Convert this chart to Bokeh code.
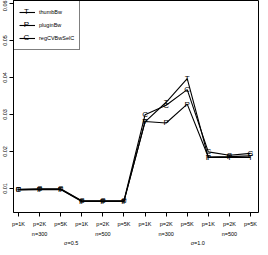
from bokeh.plotting import figure
from bokeh.models import (LinearAxis, FixedTicker, Range1d, Legend, LegendItem,
                          ColumnDataSource, NumeralTickFormatter, Label)
from bokeh.core.properties import value
from bokeh.embed import file_html
from bokeh.resources import INLINE

# ---- data ----
x_pos = list(range(1, 13))
p_labels = ["p=1K", "p=2K", "p=5K"] * 4
n_labels = ["n=300", "n=500", "n=300", "n=500"]
n_pos = [2, 5, 8, 11]
sigma_labels = ["σ=0.5", "σ=1.0"]
sigma_pos = [3.5, 9.5]
y_ticks = [0.01, 0.02, 0.03, 0.04, 0.05, 0.06]

thumbBw = [0.0097, 0.0098, 0.0098, 0.0066, 0.0066, 0.0066,
           0.0280, 0.0333, 0.0397, 0.0184, 0.0184, 0.0184]
pluginBw = [0.0096, 0.0097, 0.0097, 0.0065, 0.0065, 0.0065,
            0.0281, 0.0277, 0.0328, 0.0185, 0.0186, 0.0188]
regCVBwSelC = [0.0098, 0.0099, 0.0099, 0.0067, 0.0067, 0.0067,
               0.0299, 0.0325, 0.0367, 0.0199, 0.0190, 0.0195]

series = [("thumbBw", thumbBw, "T"), ("pluginBw", pluginBw, "P"),
          ("regCVBwSelC", regCVBwSelC, "C")]

FONT = "Liberation Sans"
FS = "5.5px"
FH = 212
FW = 245

p = figure(frame_width=FW, frame_height=FH,
           x_range=Range1d(0.763, 12.38), y_range=Range1d(0.00351, 0.0608),
           output_backend="svg", toolbar_location=None,
           x_axis_location=None, y_axis_location=None,
           min_border_left=12, min_border_right=3, min_border_top=0,
           min_border_bottom=0)
p.grid.visible = False
p.outline_line_color = "black"
p.outline_line_width = 1
p.background_fill_color = "white"
p.border_fill_color = "white"

# y axis
ya = LinearAxis(ticker=FixedTicker(ticks=y_ticks),
                formatter=NumeralTickFormatter(format="0.00"))
ya.major_label_orientation = "vertical"
ya.major_tick_out = 4
ya.major_tick_in = 0
ya.minor_tick_line_color = None
ya.major_label_standoff = 2
ya.major_label_text_font = FONT
ya.major_label_text_font_size = FS
ya.major_label_text_color = "black"
ya.axis_line_color = "black"
p.add_layout(ya, "left")

# x axis: p row with tick marks
xa = LinearAxis(ticker=FixedTicker(ticks=x_pos),
                major_label_overrides={x: l for x, l in zip(x_pos, p_labels)})
xa.major_tick_out = 4
xa.major_tick_in = 0
xa.minor_tick_line_color = None
xa.major_label_standoff = 4
xa.major_label_text_font = FONT
xa.major_label_text_font_size = FS
xa.major_label_text_color = "black"
xa.axis_line_color = None
p.add_layout(xa, "below")

# n row and sigma row (two-line labels, no tick marks)
lab = {x: l for x, l in zip(n_pos, n_labels)}
for x, l in zip(sigma_pos, sigma_labels):
    lab[x] = "\n" + l
xl = LinearAxis(ticker=FixedTicker(ticks=sorted(lab.keys())),
                major_label_overrides=lab)
xl.major_tick_out = 0
xl.major_tick_in = 0
xl.major_tick_line_color = None
xl.minor_tick_line_color = None
xl.axis_line_color = None
xl.major_label_standoff = 1
xl.major_label_text_font = FONT
xl.major_label_text_font_size = FS
xl.major_label_text_line_height = 1.55
xl.major_label_text_color = "black"
p.add_layout(xl, "below")

PAD = 5
ROW = 12
SP = 1
GW = 16
items = []
for i, (name, vals, ch) in enumerate(series):
    src = ColumnDataSource(dict(x=x_pos, y=vals))
    ln = p.line("x", "y", source=src, line_color="black", line_width=1.1)
    p.text("x", "y", source=src, text=value(ch), text_align="center",
           text_baseline="middle", text_font=value(FONT),
           text_font_size="8px", text_color="black")
    items.append(LegendItem(label=name, renderers=[ln]))

legend = Legend(items=items, location="top_left", margin=0, padding=PAD,
                spacing=SP, glyph_height=ROW, glyph_width=GW, label_height=ROW,
                label_standoff=4, label_text_font=FONT,
                label_text_font_size=FS, label_text_color="black",
                border_line_color="black", border_line_width=1,
                background_fill_alpha=0)
p.add_layout(legend)

# letter symbols on the legend's glyph slots
for i, (name, vals, ch) in enumerate(series):
    p.add_layout(Label(x=PAD + GW / 2, y=FH - (PAD + ROW / 2 + i * (ROW + SP)),
                       x_units="screen", y_units="screen", text=ch,
                       text_align="center", text_baseline="middle",
                       text_font=FONT, text_font_size="8px",
                       text_color="black"))

open("out.html", "w").write(file_html(p, INLINE))
